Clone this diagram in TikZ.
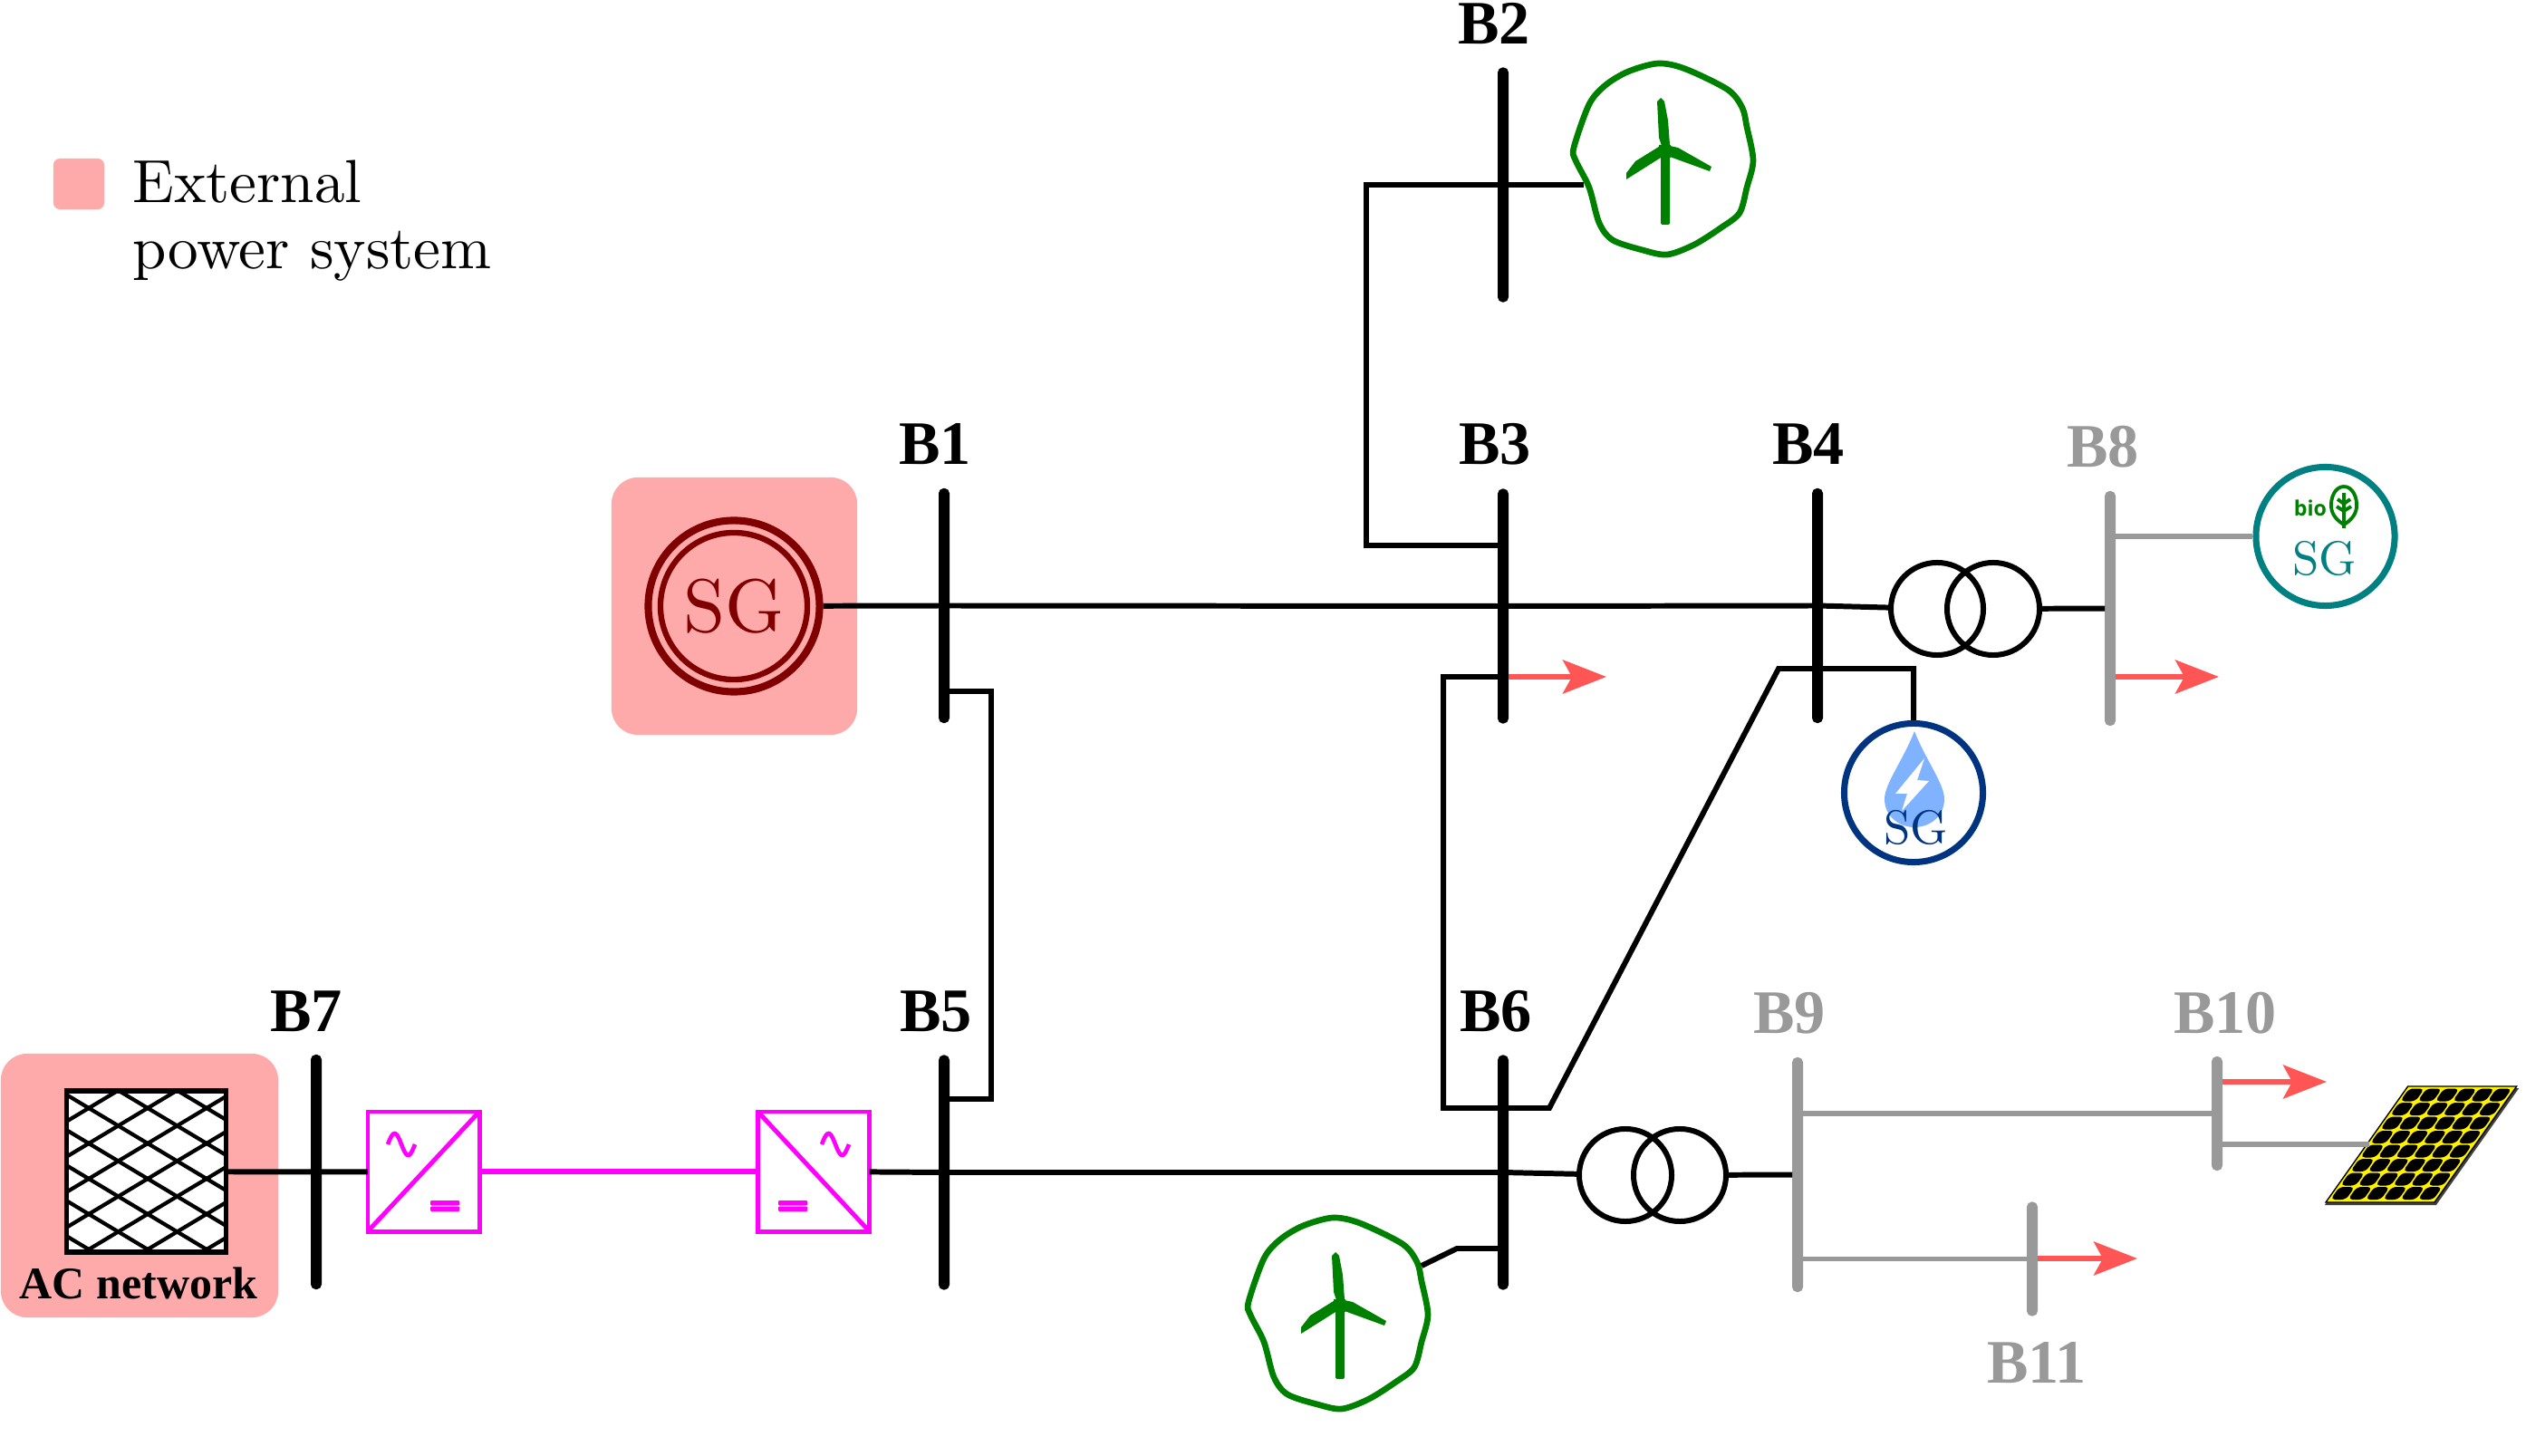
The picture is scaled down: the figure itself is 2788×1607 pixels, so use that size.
\documentclass[tikz,border=0pt]{standalone}
\usepackage{fontspec}
\usetikzlibrary{arrows.meta}
\usetikzlibrary{positioning}
\newfontfamily\busfont{Liberation Serif}
\newfontfamily\iconfont{Open Sans}
\definecolor{extpink}{HTML}{FFAAAA}
\definecolor{mgrey}{HTML}{999999}
\definecolor{mred}{HTML}{FF5555}
\definecolor{mgreen}{HTML}{008000}
\definecolor{mteal}{HTML}{008080}
\definecolor{mnavy}{HTML}{003380}
\definecolor{mdrop}{HTML}{80B3FF}
\definecolor{mmaroon}{HTML}{800000}
\definecolor{mmag}{HTML}{FF00FF}
\tikzset{net/.style = {line width = 1.7pt, line join = miter}}
\tikzset{greynet/.style = {net, mgrey}}
\tikzset{loadflow/.style = {line width = 1.7pt, mred, -{Stealth[length=.48cm, width=.37cm, inset=.1cm]}}}
\tikzset{bus/.style = {fill, rounded corners = .055cm, inner sep = 0, outer sep = 0, minimum width = .12cm, minimum height = 2.59cm}}
\tikzset{shortbus/.style = {bus, mgrey, minimum height = 1.26cm}}
\tikzset{busname/.style = {inner sep = 0, font = \busfont\bfseries\fontsize{19.4pt}{19.4pt}\selectfont}}
\tikzset{extbox/.style = {fill = extpink, inner sep = 0, rounded corners = .29cm}}
\tikzset{xfmr/.style = {draw, circle, line width = 1.7pt, inner sep = 0, minimum size = 1.02cm}}
\tikzset{sgen/.style = {draw, circle, line width = 2pt, inner sep = 0, minimum size = 1.53cm}}
\tikzset{sglabel/.style = {inner sep = 0, scale = 1.5}}
\tikzset{conv/.style = {draw = mmag, line width = 1.4pt, inner sep = 0, outer sep = 0, minimum width = 1.23cm, minimum height = 1.32cm}}
% wind generator, outline and blades round a named point
\newcommand{\windgen}[1]{
    \begin{scope}[shift = {(#1)}, mgreen]
        \draw [line width = 1.9pt] plot [smooth cycle] coordinates {(-5,-105) (25,-99) (72,-76) (88,-56) (93,-35) (100,2) (93,32) (85,60) (65,76) (35,95) (5,106) (-22,101) (-55,90) (-70,71) (-81,32) (-96,2) (-98,-12) (-81,-60) (-63,-81) (-38,-96)};
        \fill [rounded corners = .02cm] (-2,-8) -- (8,-8) -- (8,73) -- (-2,73) -- cycle;
        \fill (-2,-67) -- (-6,-63) -- (-4,-23) -- (-1,-14) -- (8,-15) -- (6,-42) -- (2,-63) -- cycle;
        \fill (-40,16) -- (-40,23) -- (-2,-1) -- (-1,-15) -- (-30,3) -- cycle;
        \fill (54,9) -- (52,14) -- (8,-2) -- (8,-14) -- (17,-12) -- cycle;
        \fill (-4,-15) -- (9,-15) -- (9,-1) -- (-3,-1) -- cycle;
    \end{scope}
}
% converter marks, sine and dc bars
\newcommand{\convmarks}[2]{
    \draw [mmag, line width = 1.3pt] plot [domain=-1:1, samples=25, shift = {(#1)}] (\x * 15, {12 * sin(\x * 180)});
    \fill [mmag, rounded corners = .01cm, shift = {(#2)}] (-16,-6) rectangle (16,-.5);
    \fill [mmag, rounded corners = .01cm, shift = {(#2)}] (-16,.5) rectangle (16,6);
}

\begin{document}
\begin{tikzpicture}[x = .01cm, y = -.01cm]
    \useasboundingbox (0, 0) rectangle (2788, 1607);

    % legend
    \node [extbox, rounded corners = .07cm, minimum width = .56cm, minimum height = .56cm] (key) at (87, 203) {};
    \node [inner sep = 0, anchor = north west, align = left, scale = 1.91, font = \fontsize{10pt}{10.75pt}\selectfont] (keytext) at (145, 176) {External\\power system};

    % external boxes
    \node [extbox, minimum width = 2.71cm, minimum height = 2.84cm] (sgbox) at (810.5, 669) {};
    \node [extbox, minimum width = 3.06cm, minimum height = 2.91cm] (acbox) at (154, 1308.5) {};

    % buses
    \node [bus] (b1) at (1042, 668.5) {};
    \node [bus] (b2) at (1659, 204) {};
    \node [bus] (b3) at (1659, 669) {};
    \node [bus] (b4) at (2006, 668.5) {};
    \node [bus] (b5) at (1042, 1294) {};
    \node [bus] (b6) at (1659, 1294) {};
    \node [bus] (b7) at (349, 1293.5) {};
    \node [bus, mgrey] (b8) at (2329, 671.5) {};
    \node [bus, mgrey] (b9) at (1984, 1296.5) {};
    \node [shortbus] (b10) at (2447, 1229) {};
    \node [shortbus] (b11) at (2243, 1389.5) {};

    \node [busname] (l1) at (1032, 490) {B1};
    \node [busname] (l2) at (1649, 26) {B2};
    \node [busname] (l3) at (1650, 490) {B3};
    \node [busname] (l4) at (1996, 490) {B4};
    \node [busname] (l5) at (1033, 1116) {B5};
    \node [busname] (l6) at (1651, 1116) {B6};
    \node [busname] (l7) at (338, 1116) {B7};
    \node [busname, mgrey] (l8) at (2321, 493) {B8};
    \node [busname, mgrey] (l9) at (1975, 1118) {B9};
    \node [busname, mgrey] (l10) at (2456, 1118) {B10};
    \node [busname, mgrey] (l11) at (2248, 1504) {B11};

    % slack generator
    \node [draw = mmaroon, circle, line width = 2.3pt, inner sep = 0, minimum size = 1.89cm] (sgext) at (810, 669) {};
    \node [draw = mmaroon, circle, line width = 1.8pt, inner sep = 0, minimum size = 1.62cm] (sgin) at (810, 669) {};
    \node [inner sep = 0, text = mmaroon, scale = 2.36] (sgtxt) at (810, 669) {SG};

    % ac network
    \node [draw, fill = white, line width = 1.5pt, inner sep = 0, outer sep = 0, minimum width = 1.76cm, minimum height = 1.78cm] (grid) at (161.5, 1293) {};
    \begin{scope}
        \clip (grid.south west) rectangle (grid.north east);
        \foreach \k in {-3,...,6} {
            \draw [line width = 1.2pt] (72, {1168.4 + 39 * \k}) -- (251, {1275.8 + 39 * \k});
            \draw [line width = 1.2pt] (72, {1277.6 + 39 * \k}) -- (251, {1170.2 + 39 * \k});
        }
    \end{scope}
    \node [busname, font = \busfont\bfseries\fontsize{14.2pt}{14.2pt}\selectfont] (acname) at (153, 1416) {AC network};

    % converters
    \node [conv] (c1) at (467.5, 1293) {};
    \node [conv] (c2) at (898, 1293) {};
    \draw [mmag, line width = 1.4pt] (c1.south west) -- (c1.north east);
    \draw [mmag, line width = 1.4pt] (c2.north west) -- (c2.south east);
    \convmarks{443, 1263}{491, 1331}
    \convmarks{922, 1263}{875, 1331}

    % transformers
    \node [xfmr] (t1a) at (2138, 672) {};
    \node [xfmr] (t1b) at (2200, 672) {};
    \node [xfmr] (t2a) at (1794, 1297) {};
    \node [xfmr] (t2b) at (1854, 1297) {};

    % wind generators
    \coordinate (wt2) at (1835, 175);
    \coordinate (wt6) at (1476, 1449);
    \windgen{wt2}
    \windgen{wt6}

    % hydro generator
    \node [sgen, mnavy] (hydro) at (2112, 875) {};
    \fill [mdrop] (2113, 807) .. controls (2100, 840) and (2080, 865) .. (2080, 882) .. controls (2080, 900) and (2095, 913) .. (2113, 913) .. controls (2131, 913) and (2146, 900) .. (2146, 882) .. controls (2146, 865) and (2126, 840) .. (2113, 807);
    \fill [white] (2124, 837) -- (2092, 876) -- (2105, 876) -- (2099, 895) -- (2129, 862) -- (2116, 861) -- cycle;
    \node [sglabel, mnavy] (hydrotxt) at (2115, 913) {SG};

    % biomass generator
    \node [sgen, mteal] (bio) at (2566.5, 592) {};
    \node [sglabel, mteal] (biotxt) at (2566, 616) {SG};
    \node [inner sep = 0, anchor = base, mgreen, font = \iconfont\bfseries\fontsize{6.6pt}{6.6pt}\selectfont] (biosign) at (2550, 570) {bio};
    \begin{scope}[shift = {(2587, 558)}, mgreen, line width = 1.1pt]
        \draw (0, -21) .. controls (10, -21) and (15, -8) .. (14, 2) .. controls (13, 12) and (5, 18) .. (0, 21) .. controls (-5, 18) and (-13, 12) .. (-14, 2) .. controls (-15, -8) and (-10, -21) .. (0, -21);
        \draw (0, -14) -- (0, 25);
        \draw (-7, -7) -- (0, -2) -- (7, -7);
        \draw (-8, 1) -- (0, 6) -- (8, 1);
    \end{scope}

    % pv panel
    \begin{scope}[shift = {(2567, 1327)}, xslant = .708]
        \fill [black!75] (1, 3) rectangle (124, -126);
        \draw [fill = yellow, line width = .4pt] (0, 0) rectangle (120, -128);
        \foreach \i in {0,...,5} {
            \foreach \j in {0,...,7} {
                \fill [rounded corners = .05cm] ({3 + 19.3 * \i}, {-3 - 15.5 * \j}) rectangle ++(17, -14);
            }
        }
    \end{scope}

    % junction points
    \coordinate (j1) at (1094, 763);
    \coordinate (j5) at (1094, 1213);
    \coordinate (j2) at (1508, 204);
    \coordinate (j3) at (1508, 602);
    \coordinate (wt2in) at (1748, 204);
    \coordinate (j4) at (1593, 747);
    \coordinate (j6) at (1593, 1223);
    \coordinate (j7) at (1710, 1223);
    \coordinate (j8) at (1963, 738);
    \coordinate (j9) at (2112, 738);
    \coordinate (j10) at (1608, 1378);
    \coordinate (wt6in) at (1569, 1397);
    \coordinate (pvin) at (2615, 1263);
    \coordinate (ld3) at (1773, 747);
    \coordinate (ld8) at (2449, 747);
    \coordinate (ld10) at (2568, 1194);
    \coordinate (ld11) at (2359, 1389);

    % lines
    \draw [net] (sgext) -- (b1.center) -- (b3.center) -- (b4.center) -- (t1a);
    \draw [net] (t1b) -- (b8);
    \draw [net] (b1 |- j1) -- (j1) -- (j5) -- (b5 |- j5);
    \draw [net] (wt2in) -- (j2) -- (j3) -- (b3 |- j3);
    \draw [net] (b3 |- j4) -- (j4) -- (j6) -- (j7) -- (j8) -- (j9) -- (hydro);
    \draw [net] (grid) -- (b7.center) -- (c1);
    \draw [mmag, line width = 1.8pt] (c1) -- (c2);
    \draw [net] (c2) -- (b5.center) -- (b6.center) -- (t2a);
    \draw [net] (t2b) -- (b9);
    \draw [net] (b6 |- j10) -- (j10) -- (wt6in);
    \draw [greynet] (b8.center |- bio) -- (bio);
    \draw [greynet] (b9.center |- b10) -- (b10.center);
    \draw [greynet] (b9.center |- b11) -- (b11.center);
    \draw [greynet] (b10.center |- pvin) -- (pvin);

    % loads
    \draw [loadflow] (b3.east |- ld3) -- (ld3);
    \draw [loadflow] (b8.east |- ld8) -- (ld8);
    \draw [loadflow] (b10.east |- ld10) -- (ld10);
    \draw [loadflow] (b11.east |- ld11) -- (ld11);
\end{tikzpicture}
\end{document}
